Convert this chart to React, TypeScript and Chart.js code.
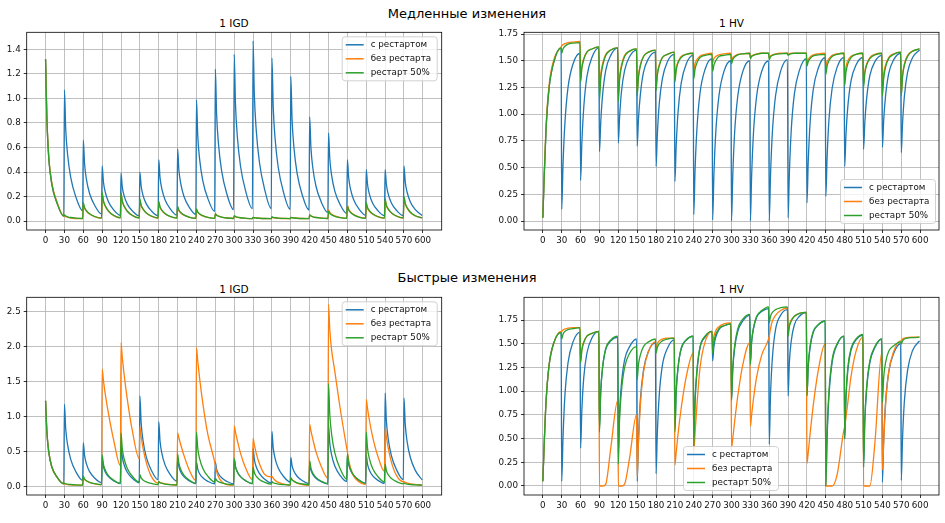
import React, { useEffect, useRef } from "react";
import { Chart, registerables } from "chart.js";

Chart.register(...registerables);

// ---------- shared data ----------
const PERIOD_STARTS = [0, 30, 60, 90, 120, 150, 180, 210, 240, 270, 300, 330, 360, 390, 420, 450, 480, 510, 540, 570];
const OFFSETS = [0, 2, 5, 10, 18, 29];
const X_TICKS = [0, 30, 60, 90, 120, 150, 180, 210, 240, 270, 300, 330, 360, 390, 420, 450, 480, 510, 540, 570, 600];
const SERIES_NAMES = ["с рестартом", "без рестарта", "рестарт 50%"];
const COLORS = ["#1f77b4", "#ff7f0e", "#2ca02c"];

const IGD_SLOW_TICKS = [0, 0.2, 0.4, 0.6, 0.8, 1.0, 1.2, 1.4];
const HV_TICKS = [0, 0.25, 0.5, 0.75, 1.0, 1.25, 1.5, 1.75];
const IGD_FAST_TICKS = [0, 0.5, 1.0, 1.5, 2.0, 2.5];

// ---------- slow changes: IGD ----------
const SLOW_IGD_RESTART = [
  [1.32, 0.85, 0.52, 0.30, 0.15, 0.04],
  [1.07, 0.755, 0.545, 0.356, 0.199, 0.083],
  [0.66, 0.468, 0.34, 0.225, 0.129, 0.058],
  [0.45, 0.321, 0.235, 0.158, 0.093, 0.046],
  [0.39, 0.279, 0.205, 0.138, 0.083, 0.042],
  [0.40, 0.286, 0.21, 0.142, 0.085, 0.043],
  [0.50, 0.356, 0.26, 0.174, 0.102, 0.049],
  [0.59, 0.419, 0.305, 0.202, 0.117, 0.054],
  [0.99, 0.699, 0.505, 0.33, 0.185, 0.078],
  [1.24, 0.874, 0.63, 0.41, 0.227, 0.093],
  [1.36, 0.958, 0.69, 0.449, 0.248, 0.10],
  [1.47, 1.035, 0.745, 0.484, 0.267, 0.10],
  [1.33, 0.937, 0.675, 0.439, 0.243, 0.095],
  [1.18, 0.832, 0.60, 0.391, 0.217, 0.09],
  [0.85, 0.601, 0.435, 0.286, 0.161, 0.07],
  [0.72, 0.51, 0.37, 0.244, 0.139, 0.062],
  [0.50, 0.356, 0.26, 0.174, 0.102, 0.049],
  [0.42, 0.30, 0.22, 0.148, 0.088, 0.044],
  [0.42, 0.30, 0.22, 0.148, 0.088, 0.044],
  [0.45, 0.321, 0.235, 0.158, 0.093, 0.046],
];
const SLOW_IGD_NO_RESTART = [
  [1.32, 0.86, 0.53, 0.31, 0.16, 0.04],
  [0.04, 0.035, 0.03, 0.025, 0.021, 0.02],
  [0.14, 0.105, 0.08, 0.057, 0.036, 0.024],
  [0.22, 0.16, 0.12, 0.08, 0.046, 0.026],
  [0.22, 0.16, 0.12, 0.08, 0.046, 0.026],
  [0.17, 0.125, 0.095, 0.066, 0.04, 0.025],
  [0.15, 0.11, 0.085, 0.06, 0.037, 0.024],
  [0.11, 0.085, 0.066, 0.048, 0.032, 0.022],
  [0.09, 0.07, 0.056, 0.042, 0.03, 0.022],
  [0.06, 0.048, 0.04, 0.032, 0.025, 0.021],
  [0.04, 0.034, 0.03, 0.026, 0.022, 0.02],
  [0.03, 0.027, 0.025, 0.023, 0.021, 0.02],
  [0.03, 0.027, 0.025, 0.023, 0.021, 0.02],
  [0.03, 0.027, 0.025, 0.023, 0.021, 0.02],
  [0.05, 0.042, 0.036, 0.03, 0.025, 0.021],
  [0.09, 0.07, 0.056, 0.042, 0.03, 0.022],
  [0.13, 0.098, 0.075, 0.054, 0.035, 0.024],
  [0.14, 0.105, 0.08, 0.057, 0.036, 0.024],
  [0.17, 0.125, 0.095, 0.066, 0.04, 0.025],
  [0.19, 0.14, 0.105, 0.07, 0.042, 0.025],
];
const SLOW_IGD_HALF = [
  [1.32, 0.85, 0.52, 0.30, 0.15, 0.04],
  [0.05, 0.041, 0.035, 0.029, 0.024, 0.021],
  [0.15, 0.11, 0.085, 0.06, 0.037, 0.024],
  [0.23, 0.167, 0.125, 0.083, 0.047, 0.026],
  [0.23, 0.165, 0.122, 0.08, 0.045, 0.025],
  [0.18, 0.13, 0.10, 0.068, 0.041, 0.025],
  [0.16, 0.118, 0.09, 0.062, 0.038, 0.024],
  [0.12, 0.09, 0.07, 0.05, 0.033, 0.023],
  [0.10, 0.076, 0.06, 0.044, 0.03, 0.022],
  [0.06, 0.048, 0.04, 0.032, 0.025, 0.021],
  [0.045, 0.037, 0.032, 0.027, 0.023, 0.02],
  [0.03, 0.027, 0.025, 0.023, 0.021, 0.02],
  [0.035, 0.03, 0.027, 0.024, 0.022, 0.02],
  [0.03, 0.027, 0.025, 0.023, 0.021, 0.02],
  [0.05, 0.041, 0.035, 0.029, 0.024, 0.021],
  [0.08, 0.062, 0.05, 0.038, 0.028, 0.022],
  [0.12, 0.09, 0.07, 0.05, 0.033, 0.023],
  [0.15, 0.11, 0.085, 0.06, 0.037, 0.024],
  [0.18, 0.13, 0.10, 0.068, 0.041, 0.025],
  [0.20, 0.146, 0.11, 0.074, 0.043, 0.025],
];

// ---------- slow changes: HV ----------
const SLOW_HV_RESTART = [
  [0.03, 0.40, 0.85, 1.25, 1.50, 1.62],
  [0.11, 0.52, 0.91, 1.25, 1.47, 1.57],
  [0.38, 0.73, 1.06, 1.35, 1.53, 1.62],
  [0.65, 0.92, 1.18, 1.41, 1.55, 1.62],
  [0.73, 0.97, 1.21, 1.41, 1.54, 1.60],
  [0.70, 0.95, 1.18, 1.39, 1.52, 1.58],
  [0.51, 0.80, 1.09, 1.33, 1.49, 1.56],
  [0.37, 0.70, 1.02, 1.29, 1.47, 1.55],
  [0.06, 0.47, 0.86, 1.20, 1.42, 1.52],
  [0.01, 0.43, 0.83, 1.17, 1.40, 1.50],
  [0.00, 0.42, 0.83, 1.17, 1.40, 1.50],
  [0.00, 0.42, 0.83, 1.17, 1.40, 1.50],
  [0.00, 0.42, 0.83, 1.17, 1.40, 1.51],
  [0.03, 0.44, 0.85, 1.19, 1.41, 1.52],
  [0.17, 0.55, 0.92, 1.23, 1.43, 1.53],
  [0.23, 0.59, 0.95, 1.24, 1.44, 1.53],
  [0.51, 0.80, 1.07, 1.31, 1.46, 1.53],
  [0.67, 0.92, 1.15, 1.36, 1.49, 1.55],
  [0.69, 0.94, 1.17, 1.38, 1.51, 1.57],
  [0.64, 0.91, 1.17, 1.39, 1.53, 1.60],
];
const SLOW_HV_NO_RESTART = [
  [0.03, 0.42, 0.88, 1.28, 1.52, 1.63],
  [1.64, 1.65, 1.66, 1.67, 1.675, 1.68],
  [1.32, 1.44, 1.52, 1.58, 1.61, 1.63],
  [1.20, 1.37, 1.47, 1.56, 1.60, 1.62],
  [1.18, 1.35, 1.46, 1.55, 1.59, 1.61],
  [1.20, 1.36, 1.46, 1.54, 1.58, 1.60],
  [1.25, 1.38, 1.46, 1.53, 1.56, 1.58],
  [1.33, 1.43, 1.49, 1.54, 1.56, 1.57],
  [1.40, 1.47, 1.51, 1.545, 1.56, 1.57],
  [1.48, 1.52, 1.54, 1.555, 1.565, 1.57],
  [1.50, 1.53, 1.545, 1.56, 1.565, 1.57],
  [1.53, 1.545, 1.555, 1.565, 1.57, 1.57],
  [1.53, 1.545, 1.555, 1.565, 1.57, 1.57],
  [1.56, 1.565, 1.57, 1.57, 1.57, 1.57],
  [1.48, 1.51, 1.535, 1.555, 1.565, 1.57],
  [1.44, 1.49, 1.52, 1.55, 1.565, 1.57],
  [1.35, 1.44, 1.50, 1.54, 1.56, 1.57],
  [1.28, 1.40, 1.47, 1.53, 1.56, 1.57],
  [1.25, 1.38, 1.46, 1.53, 1.565, 1.58],
  [1.18, 1.36, 1.47, 1.55, 1.59, 1.61],
];
const SLOW_HV_HALF = [
  [0.03, 0.40, 0.85, 1.25, 1.50, 1.62],
  [1.57, 1.61, 1.635, 1.655, 1.665, 1.67],
  [1.30, 1.43, 1.51, 1.58, 1.61, 1.63],
  [1.13, 1.33, 1.45, 1.55, 1.60, 1.62],
  [1.12, 1.32, 1.44, 1.54, 1.59, 1.61],
  [1.17, 1.34, 1.45, 1.54, 1.58, 1.60],
  [1.22, 1.36, 1.45, 1.53, 1.56, 1.58],
  [1.30, 1.41, 1.48, 1.53, 1.56, 1.57],
  [1.33, 1.42, 1.48, 1.53, 1.55, 1.56],
  [1.40, 1.46, 1.50, 1.54, 1.55, 1.56],
  [1.47, 1.51, 1.535, 1.555, 1.565, 1.57],
  [1.52, 1.54, 1.55, 1.56, 1.57, 1.57],
  [1.51, 1.535, 1.55, 1.56, 1.565, 1.57],
  [1.55, 1.56, 1.565, 1.57, 1.57, 1.57],
  [1.45, 1.49, 1.52, 1.545, 1.555, 1.56],
  [1.37, 1.45, 1.50, 1.54, 1.56, 1.57],
  [1.27, 1.39, 1.47, 1.53, 1.56, 1.57],
  [1.25, 1.38, 1.46, 1.52, 1.555, 1.57],
  [1.17, 1.33, 1.44, 1.52, 1.56, 1.58],
  [1.17, 1.35, 1.46, 1.54, 1.59, 1.61],
];

// ---------- fast changes: IGD ----------
const FAST_IGD_RESTART = [
  [1.23, 0.80, 0.50, 0.28, 0.14, 0.04],
  [1.18, 0.832, 0.60, 0.391, 0.217, 0.09],
  [0.63, 0.447, 0.325, 0.215, 0.124, 0.057],
  [0.40, 0.286, 0.21, 0.142, 0.085, 0.043],
  [0.60, 0.426, 0.31, 0.206, 0.119, 0.055],
  [1.30, 0.916, 0.66, 0.43, 0.238, 0.097],
  [0.93, 0.657, 0.475, 0.311, 0.175, 0.075],
  [0.40, 0.286, 0.21, 0.142, 0.085, 0.043],
  [0.35, 0.251, 0.185, 0.126, 0.076, 0.04],
  [0.35, 0.251, 0.185, 0.126, 0.076, 0.04],
  [0.40, 0.286, 0.21, 0.142, 0.085, 0.043],
  [0.55, 0.391, 0.285, 0.19, 0.11, 0.052],
  [0.79, 0.559, 0.405, 0.266, 0.151, 0.066],
  [0.42, 0.30, 0.22, 0.148, 0.088, 0.044],
  [0.33, 0.237, 0.175, 0.119, 0.073, 0.039],
  [0.88, 0.622, 0.45, 0.295, 0.166, 0.072],
  [0.45, 0.321, 0.235, 0.158, 0.093, 0.046],
  [0.45, 0.321, 0.235, 0.158, 0.093, 0.046],
  [1.34, 0.944, 0.68, 0.442, 0.244, 0.099],
  [1.27, 0.895, 0.645, 0.42, 0.233, 0.095],
];
const FAST_IGD_NO_RESTART = [
  [1.23, 0.80, 0.50, 0.28, 0.14, 0.04],
  [0.04, 0.035, 0.03, 0.025, 0.02, 0.02],
  [0.12, 0.10, 0.08, 0.06, 0.04, 0.025],
  [1.68, 1.52, 1.32, 1.05, 0.68, 0.30],
  [2.06, 1.85, 1.60, 1.25, 0.80, 0.40],
  [0.85, 0.72, 0.55, 0.35, 0.15, 0.05],
  [0.07, 0.06, 0.05, 0.04, 0.03, 0.02],
  [0.77, 0.70, 0.60, 0.45, 0.25, 0.09],
  [1.99, 1.80, 1.55, 1.20, 0.75, 0.35],
  [0.30, 0.22, 0.14, 0.07, 0.03, 0.02],
  [0.87, 0.78, 0.66, 0.48, 0.27, 0.10],
  [0.69, 0.60, 0.48, 0.33, 0.18, 0.14],
  [0.15, 0.12, 0.09, 0.06, 0.04, 0.02],
  [0.12, 0.10, 0.08, 0.05, 0.03, 0.02],
  [0.89, 0.80, 0.68, 0.50, 0.30, 0.12],
  [2.61, 2.25, 1.95, 1.65, 1.15, 0.55],
  [0.50, 0.38, 0.27, 0.15, 0.07, 0.03],
  [1.25, 1.12, 0.95, 0.72, 0.45, 0.22],
  [0.85, 0.72, 0.55, 0.35, 0.16, 0.07],
  [0.07, 0.06, 0.05, 0.04, 0.03, 0.02],
];
const FAST_IGD_HALF = [
  [1.23, 0.80, 0.50, 0.28, 0.14, 0.04],
  [0.05, 0.041, 0.035, 0.03, 0.025, 0.022],
  [0.15, 0.111, 0.085, 0.062, 0.042, 0.028],
  [0.45, 0.321, 0.235, 0.158, 0.093, 0.046],
  [0.77, 0.545, 0.395, 0.26, 0.148, 0.065],
  [0.17, 0.125, 0.095, 0.068, 0.046, 0.029],
  [0.07, 0.055, 0.045, 0.036, 0.029, 0.023],
  [0.47, 0.335, 0.245, 0.164, 0.097, 0.047],
  [0.78, 0.552, 0.40, 0.263, 0.149, 0.066],
  [0.12, 0.09, 0.07, 0.052, 0.037, 0.026],
  [0.40, 0.286, 0.21, 0.142, 0.085, 0.043],
  [0.28, 0.202, 0.15, 0.103, 0.064, 0.036],
  [0.07, 0.055, 0.045, 0.036, 0.029, 0.023],
  [0.13, 0.097, 0.075, 0.055, 0.039, 0.027],
  [0.37, 0.265, 0.195, 0.132, 0.08, 0.041],
  [1.47, 1.035, 0.745, 0.484, 0.267, 0.107],
  [0.47, 0.335, 0.245, 0.164, 0.097, 0.047],
  [0.78, 0.552, 0.40, 0.263, 0.149, 0.066],
  [0.32, 0.23, 0.17, 0.116, 0.071, 0.038],
  [0.05, 0.041, 0.035, 0.03, 0.025, 0.022],
];

// ---------- fast changes: HV ----------
const FAST_HV_RESTART = [
  [0.05, 0.42, 0.88, 1.28, 1.52, 1.62],
  [0.05, 0.50, 0.95, 1.30, 1.52, 1.62],
  [0.40, 0.80, 1.14, 1.40, 1.56, 1.63],
  [0.60, 1.00, 1.25, 1.44, 1.53, 1.57],
  [0.35, 0.78, 1.08, 1.33, 1.47, 1.55],
  [0.05, 0.48, 0.90, 1.22, 1.42, 1.51],
  [0.13, 0.55, 0.95, 1.27, 1.45, 1.54],
  [0.60, 1.00, 1.25, 1.45, 1.54, 1.58],
  [0.42, 0.88, 1.20, 1.46, 1.57, 1.63],
  [1.32, 1.47, 1.57, 1.65, 1.69, 1.71],
  [0.90, 1.22, 1.45, 1.63, 1.74, 1.80],
  [1.30, 1.52, 1.66, 1.78, 1.84, 1.87],
  [0.44, 0.95, 1.35, 1.65, 1.80, 1.86],
  [0.95, 1.30, 1.53, 1.70, 1.79, 1.83],
  [0.95, 1.25, 1.46, 1.62, 1.70, 1.74],
  [0.00, 0.50, 0.95, 1.30, 1.49, 1.58],
  [0.50, 0.92, 1.22, 1.43, 1.54, 1.59],
  [0.20, 0.68, 1.03, 1.30, 1.46, 1.55],
  [0.04, 0.48, 0.88, 1.20, 1.40, 1.50],
  [0.06, 0.50, 0.90, 1.22, 1.43, 1.53],
];
const FAST_HV_NO_RESTART = [
  [0.05, 0.42, 0.88, 1.28, 1.52, 1.63],
  [1.63, 1.645, 1.655, 1.665, 1.67, 1.67],
  [1.32, 1.44, 1.52, 1.58, 1.61, 1.63],
  [0.00, 0.00, 0.00, 0.02, 0.40, 0.90],
  [0.00, 0.00, 0.00, 0.02, 0.30, 0.75],
  [0.10, 0.45, 0.85, 1.20, 1.42, 1.52],
  [1.45, 1.50, 1.53, 1.55, 1.56, 1.56],
  [0.22, 0.35, 0.55, 0.82, 1.15, 1.40],
  [0.35, 0.55, 0.85, 1.25, 1.52, 1.63],
  [1.50, 1.58, 1.64, 1.68, 1.71, 1.72],
  [0.40, 0.50, 0.68, 0.95, 1.28, 1.51],
  [0.63, 0.75, 0.92, 1.15, 1.38, 1.55],
  [1.58, 1.66, 1.74, 1.80, 1.85, 1.88],
  [1.62, 1.70, 1.75, 1.79, 1.82, 1.83],
  [0.24, 0.35, 0.55, 0.85, 1.22, 1.50],
  [0.00, 0.00, 0.00, 0.00, 0.12, 0.60],
  [0.62, 0.72, 0.88, 1.15, 1.42, 1.57],
  [0.00, 0.00, 0.00, 0.00, 0.45, 1.41],
  [0.17, 0.45, 0.85, 1.20, 1.42, 1.53],
  [1.53, 1.55, 1.56, 1.565, 1.57, 1.57],
];
const FAST_HV_HALF = [
  [0.05, 0.42, 0.88, 1.28, 1.52, 1.62],
  [1.55, 1.60, 1.63, 1.65, 1.66, 1.67],
  [1.30, 1.43, 1.51, 1.58, 1.61, 1.63],
  [0.57, 0.98, 1.25, 1.45, 1.54, 1.58],
  [0.23, 0.70, 1.00, 1.25, 1.40, 1.47],
  [1.12, 1.28, 1.38, 1.47, 1.52, 1.55],
  [1.40, 1.46, 1.50, 1.53, 1.55, 1.56],
  [0.57, 0.98, 1.25, 1.45, 1.54, 1.58],
  [0.42, 0.90, 1.22, 1.47, 1.58, 1.63],
  [1.40, 1.52, 1.60, 1.66, 1.69, 1.71],
  [0.91, 1.25, 1.48, 1.66, 1.76, 1.81],
  [1.28, 1.52, 1.67, 1.79, 1.85, 1.89],
  [1.72, 1.79, 1.83, 1.86, 1.88, 1.89],
  [1.58, 1.68, 1.74, 1.79, 1.82, 1.83],
  [0.95, 1.27, 1.48, 1.63, 1.70, 1.74],
  [0.00, 0.55, 1.00, 1.33, 1.50, 1.58],
  [0.50, 0.95, 1.25, 1.45, 1.55, 1.60],
  [0.20, 0.70, 1.05, 1.32, 1.47, 1.55],
  [0.88, 1.14, 1.30, 1.42, 1.48, 1.52],
  [1.50, 1.53, 1.55, 1.56, 1.565, 1.57],
];

// ---------- helpers ----------
const FONT = '"DejaVu Sans", "Liberation Sans", sans-serif';

function toPoints(rows: number[][]) {
  const pts: { x: number; y: number }[] = [];
  rows.forEach((row, k) => {
    row.forEach((v, j) => {
      pts.push({ x: PERIOD_STARTS[k] + OFFSETS[j], y: v });
    });
  });
  return pts;
}

type PanelProps = {
  left: number;
  top: number;
  width: number;
  height: number;
  yAxisWidth: number;
  xAxisHeight: number;
  padTop: number;
  padRight: number;
  yMin: number;
  yMax: number;
  yTicks: number[];
  decimals: number;
  series: number[][][];
  legend: "ur" | "lr" | "lc";
};

function Panel(p: PanelProps) {
  const ref = useRef<HTMLCanvasElement | null>(null);
  useEffect(() => {
    if (!ref.current) return;
    const framePlugin = {
      id: "frame",
      afterDatasetsDraw(chart: any) {
        const { ctx, chartArea: a } = chart;
        ctx.save();
        ctx.strokeStyle = "#000";
        ctx.lineWidth = 0.8;
        ctx.strokeRect(a.left, a.top, a.right - a.left, a.bottom - a.top);
        ctx.restore();
      },
    };
    const legendPlugin = {
      id: "mplLegend",
      afterDraw(chart: any) {
        const { ctx, chartArea: a } = chart;
        const w = 95;
        const h = 44;
        let x = 0;
        let y = 0;
        if (p.legend === "ur") {
          x = a.right - 5 - w;
          y = a.top + 4;
        } else if (p.legend === "lr") {
          x = a.right - 4 - w;
          y = a.bottom - 7 - h;
        } else {
          x = (a.left + a.right) / 2 - w / 2 - 1;
          y = a.bottom - 5 - h;
        }
        ctx.save();
        ctx.beginPath();
        if ((ctx as any).roundRect) (ctx as any).roundRect(x + 0.5, y + 0.5, w, h, 3);
        else ctx.rect(x + 0.5, y + 0.5, w, h);
        ctx.fillStyle = "rgba(255,255,255,0.8)";
        ctx.fill();
        ctx.strokeStyle = "rgba(204,204,204,0.9)";
        ctx.lineWidth = 1;
        ctx.stroke();
        ctx.font = `8.75px ${FONT}`;
        ctx.textBaseline = "middle";
        ctx.textAlign = "left";
        SERIES_NAMES.forEach((name, i) => {
          const cy = y + 8.5 + i * 14;
          ctx.strokeStyle = COLORS[i];
          ctx.lineWidth = 1.5;
          ctx.beginPath();
          ctx.moveTo(x + 4, cy);
          ctx.lineTo(x + 22, cy);
          ctx.stroke();
          ctx.fillStyle = "#111";
          ctx.fillText(name, x + 29, cy);
        });
        ctx.restore();
      },
    };
    const chart = new Chart(ref.current, {
      type: "line",
      data: {
        datasets: p.series.map((rows, i) => ({
          label: SERIES_NAMES[i],
          data: toPoints(rows),
          borderColor: COLORS[i],
          backgroundColor: COLORS[i],
          borderWidth: 1.3,
          pointRadius: 0,
          fill: false,
          cubicInterpolationMode: "monotone" as const,
          order: 3 - i,
        })),
      },
      options: {
        responsive: false,
        maintainAspectRatio: false,
        animation: false,
        events: [],
        layout: { padding: { left: 0, top: p.padTop, right: p.padRight, bottom: 0 } },
        plugins: {
          legend: { display: false },
          tooltip: { enabled: false },
          title: { display: false },
        },
        scales: {
          x: {
            type: "linear",
            min: -30,
            max: 630,
            afterBuildTicks: (s: any) => {
              s.ticks = X_TICKS.map((v) => ({ value: v }));
            },
            afterFit: (s: any) => {
              s.height = p.xAxisHeight;
            },
            ticks: {
              autoSkip: false,
              maxRotation: 0,
              minRotation: 0,
              padding: 2,
              color: "#111",
              font: { family: FONT, size: 8.75 },
              callback: (v: any) => String(v),
            },
            grid: { color: "#b0b0b0", lineWidth: 0.8, tickColor: "#000", tickLength: 3, drawTicks: true },
            border: { display: false },
          },
          y: {
            type: "linear",
            min: p.yMin,
            max: p.yMax,
            afterBuildTicks: (s: any) => {
              s.ticks = p.yTicks.map((v) => ({ value: v }));
            },
            afterFit: (s: any) => {
              s.width = p.yAxisWidth;
            },
            ticks: {
              autoSkip: false,
              padding: 3,
              color: "#111",
              font: { family: FONT, size: 8.75 },
              callback: (v: any) => Number(v).toFixed(p.decimals),
            },
            grid: { color: "#b0b0b0", lineWidth: 0.8, tickColor: "#000", tickLength: 3, drawTicks: true },
            border: { display: false },
          },
        },
      } as any,
      plugins: [framePlugin, legendPlugin],
    });
    return () => chart.destroy();
  }, []);
  return (
    <canvas
      ref={ref}
      width={p.width}
      height={p.height}
      style={{ position: "absolute", left: p.left, top: p.top, width: p.width, height: p.height }}
    />
  );
}

function Label(props: { text: string; cx: number; cy: number; size: number }) {
  return (
    <div
      style={{
        position: "absolute",
        left: props.cx,
        top: props.cy,
        transform: "translate(-50%, -50%)",
        fontFamily: FONT,
        fontSize: props.size,
        lineHeight: 1,
        whiteSpace: "nowrap",
        color: "#000",
      }}
    >
      {props.text}
    </div>
  );
}

export default function App() {
  return (
    <div
      style={{
        position: "absolute",
        left: 0,
        top: 0,
        width: 945,
        height: 523,
        background: "#fff",
        overflow: "hidden",
      }}
    >
      <Label text="Медленные изменения" cx={467} cy={13} size={13} />
      <Label text="1 IGD" cx={234} cy={23} size={10.5} />
      <Label text="1 HV" cx={731.5} cy={23} size={10.5} />
      <Label text="Быстрые изменения" cx={467} cy={276.5} size={13} />
      <Label text="1 IGD" cx={234} cy={289} size={10.5} />
      <Label text="1 HV" cx={731.5} cy={289} size={10.5} />

      <Panel
        left={0}
        top={0}
        width={470}
        height={260}
        yAxisWidth={26.7}
        xAxisHeight={30}
        padTop={32.3}
        padRight={28.3}
        yMin={-0.073}
        yMax={1.54}
        yTicks={IGD_SLOW_TICKS}
        decimals={1}
        series={[SLOW_IGD_RESTART, SLOW_IGD_NO_RESTART, SLOW_IGD_HALF]}
        legend="ur"
      />
      <Panel
        left={470}
        top={0}
        width={475}
        height={260}
        yAxisWidth={54}
        xAxisHeight={30}
        padTop={32.3}
        padRight={6}
        yMin={-0.084}
        yMax={1.766}
        yTicks={HV_TICKS}
        decimals={2}
        series={[SLOW_HV_RESTART, SLOW_HV_NO_RESTART, SLOW_HV_HALF]}
        legend="lr"
      />
      <Panel
        left={0}
        top={260}
        width={470}
        height={263}
        yAxisWidth={26.7}
        xAxisHeight={28}
        padTop={37.3}
        padRight={28.3}
        yMin={-0.12}
        yMax={2.71}
        yTicks={IGD_FAST_TICKS}
        decimals={1}
        series={[FAST_IGD_RESTART, FAST_IGD_NO_RESTART, FAST_IGD_HALF]}
        legend="ur"
      />
      <Panel
        left={470}
        top={260}
        width={475}
        height={263}
        yAxisWidth={54}
        xAxisHeight={28}
        padTop={37.3}
        padRight={6}
        yMin={-0.095}
        yMax={1.99}
        yTicks={HV_TICKS}
        decimals={2}
        series={[FAST_HV_RESTART, FAST_HV_NO_RESTART, FAST_HV_HALF]}
        legend="lc"
      />
    </div>
  );
}
